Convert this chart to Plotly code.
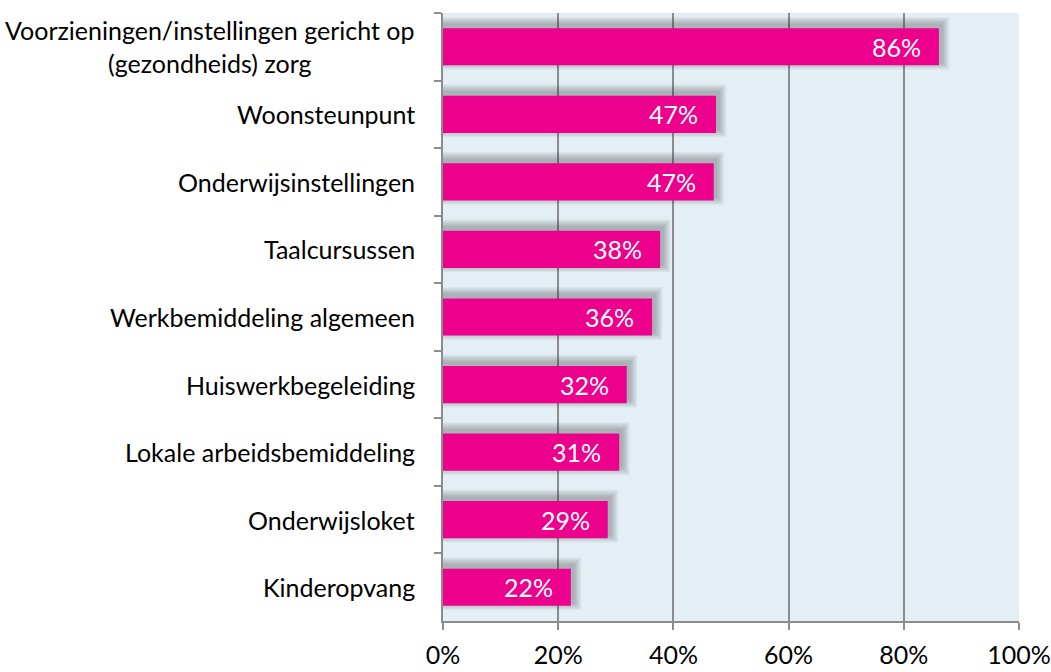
import plotly.graph_objects as go

categories = [
    "Voorzieningen/instellingen gericht op<br>(gezondheids) zorg",
    "Woonsteunpunt",
    "Onderwijsinstellingen",
    "Taalcursussen",
    "Werkbemiddeling algemeen",
    "Huiswerkbegeleiding",
    "Lokale arbeidsbemiddeling",
    "Onderwijsloket",
    "Kinderopvang",
]
values = [86.1, 47.4, 47.0, 37.7, 36.3, 31.9, 30.6, 28.6, 22.2]
x_tickvals = [0, 20, 40, 60, 80, 100]
x_ticktext = ["0%", "20%", "40%", "60%", "80%", "100%"]

BAR_COLOR = "#EC008C"
FONT = "Lato"
FS = 25

# pixel geometry of plot area (for shadow size conversion)
L, R, T, B = 443, 32, 13, 51
W_PX = 1051 - L - R
H_PX = 672 - T - B
px_per_pct = W_PX / 100.0
px_per_cat = H_PX / len(categories)
bar_w = 0.55

fig = go.Figure()

# soft drop shadow (layered translucent bars), offset up-right
n_layers = 6
for i in range(1, n_layers + 1):
    spread = i * 1.3
    dx = 2.5
    dy = -3.5
    w = bar_w + 2 * spread / px_per_cat
    fig.add_trace(go.Bar(
        y=categories,
        x=[v + (dx + spread) / px_per_pct for v in values],
        base=0,
        orientation="h",
        width=w,
        offset=-w / 2 + dy / px_per_cat,
        marker=dict(color="rgba(40,40,40,0.055)", line=dict(width=0)),
        hoverinfo="skip",
        showlegend=False,
    ))

fig.add_trace(go.Bar(
    y=categories,
    x=values,
    orientation="h",
    width=bar_w,
    marker=dict(color=BAR_COLOR, line=dict(width=0)),
    hoverinfo="skip",
    showlegend=False,
))

annotations = []
for c, v in zip(categories, values):
    annotations.append(dict(
        x=v, y=c, xref="x", yref="y", text=f"{round(v)}%",
        xanchor="right", yanchor="middle", xshift=-16, showarrow=False,
        font=dict(family=FONT, size=FS, color="white"),
    ))
    annotations.append(dict(
        x=0, y=c, xref="paper", yref="y", text=c,
        xanchor="right", yanchor="middle", xshift=-26, showarrow=False,
        align="center",
        font=dict(family=FONT, size=FS, color="black"),
    ))

fig.update_layout(
    template="none",
    width=1051, height=672,
    margin=dict(l=L, r=R, t=T, b=B, pad=0),
    paper_bgcolor="white",
    plot_bgcolor="#E4EFF5",
    barmode="overlay",
    annotations=annotations,
    font=dict(family=FONT, size=FS, color="black"),
    xaxis=dict(
        range=[0, 100],
        tickvals=x_tickvals,
        ticktext=x_ticktext,
        automargin=False,
        showgrid=True, gridcolor="#8C8C8C", gridwidth=1.5,
        showline=True, linecolor="#8C8C8C", linewidth=1.5,
        ticks="outside", ticklen=7, tickcolor="#8C8C8C", tickwidth=1.5,
        ticklabelstandoff=4,
        tickfont=dict(family=FONT, size=FS, color="black"),
        zeroline=False, fixedrange=True,
    ),
    yaxis=dict(
        categoryorder="array", categoryarray=categories,
        autorange="reversed",
        automargin=False,
        showticklabels=False,
        showgrid=False,
        showline=True, linecolor="#8C8C8C", linewidth=1.5,
        ticks="outside", ticklen=7, tickcolor="#8C8C8C", tickwidth=1.5,
        tickson="boundaries",
        zeroline=False, fixedrange=True,
    ),
)

fig.write_html(
    "out.html",
    config={"displayModeBar": False},
    post_script="document.body.style.margin='0';document.body.style.padding='0';",
)
